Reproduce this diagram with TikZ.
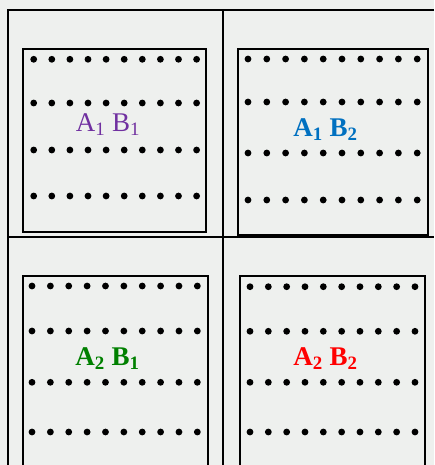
\documentclass[tikz,border=0pt]{standalone}
\usepackage{fontspec}
\setmainfont{Liberation Serif}
\usepackage{xcolor}
\usepackage{tikz}
\usetikzlibrary{positioning}
\definecolor{cellPurple}{RGB}{112,48,160}
\definecolor{cellBlue}{RGB}{0,112,192}
\definecolor{cellGreen}{RGB}{0,128,0}
\definecolor{cellRed}{RGB}{255,0,0}
\definecolor{paper}{RGB}{238,240,238}

\begin{document}
\begin{tikzpicture}[
    x=1pt, y=-1pt,
    grid/.style={line width=2pt},
    plot/.style={draw, line width=2.2pt},
    dot/.style={fill=black},
    cell/.style={font=\fontsize{27}{30}\selectfont, inner sep=0pt}
  ]
    \clip (0,0) rectangle (434,465);
    \fill[paper] (0,0) rectangle (434,465);

    % outer grid
    \coordinate (tl) at (8,10);
    \coordinate (tr) at (434,10);
    \coordinate (bl) at (8,465);
    \coordinate (tm) at (223,10);
    \coordinate (bm) at (223,465);
    \coordinate (ml) at (8,236.5);
    \coordinate (mr) at (434,236.5);
    \draw[grid] (tr) -- (tl) -- (bl);
    \draw[grid] (tm) -- (bm);
    \draw[grid] (ml) -- (mr);

    % plots
    \draw[plot] (23.3,49) rectangle (206,232);
    \draw[plot] (237.7,49) rectangle (428.3,235);
    \draw[plot] (22.7,475) rectangle (208.3,275.7);
    \draw[plot] (240,475) rectangle (424.7,275.7);

    % plants
    \foreach \y in {59.3,103,150,196}
      \foreach \i in {0,...,9}
        \fill[dot] (33.7+18.1*\i,\y) circle[radius=3.4pt];
    \foreach \y in {59,102,153,200}
      \foreach \i in {0,...,9}
        \fill[dot] (248+18.8*\i,\y) circle[radius=3.4pt];
    \foreach \y in {286,331,382.3,432}
      \foreach \i in {0,...,9}
        \fill[dot] (32+18.37*\i,\y) circle[radius=3.4pt];
    \foreach \y in {286.7,331.3,382.3,432}
      \foreach \i in {0,...,9}
        \fill[dot] (250+18.33*\i,\y) circle[radius=3.4pt];

    % treatments
    \node[cell, text=cellPurple] (a1b1) at (108,125)
      {A\textsubscript{1} B\textsubscript{1}};
    \node[cell, text=cellBlue, font=\fontsize{27}{30}\selectfont\bfseries] (a1b2) at (325.5,130)
      {A\textsubscript{1} B\textsubscript{2}};
    \node[cell, text=cellGreen, font=\fontsize{27}{30}\selectfont\bfseries] (a2b1) at (107.5,359)
      {A\textsubscript{2} B\textsubscript{1}};
    \node[cell, text=cellRed, font=\fontsize{27}{30}\selectfont\bfseries] (a2b2) at (325.5,359)
      {A\textsubscript{2} B\textsubscript{2}};
  \end{tikzpicture}
\end{document}
